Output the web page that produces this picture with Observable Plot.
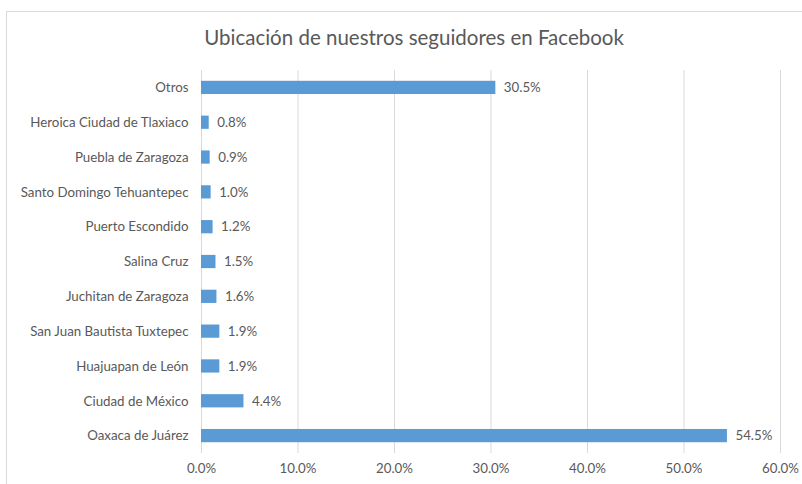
<!DOCTYPE html>
<html>
<head>
<meta charset="utf-8">
<script src="https://cdn.jsdelivr.net/npm/d3@7"></script>
<script src="https://cdn.jsdelivr.net/npm/@observablehq/plot@0.6"></script>
<style>
  html, body { margin: 0; padding: 0; background: #fff; }
  #wrap { position: relative; width: 802px; height: 484px; overflow: hidden; font-family: Lato, "Open Sans", sans-serif; }
  #border { position: absolute; left: 6px; top: 11px; width: 900px; height: 600px; border: 1px solid #D9D9D9; box-sizing: border-box; }
  #title { position: absolute; left: 0; top: 25px; width: 828px; text-align: center; font-size: 20.5px; color: #595959; }
  #chart { position: absolute; left: 0; top: 0; }
</style>
</head>
<body>
<div id="wrap">
  <div id="border"></div>
  <div id="title">Ubicación de nuestros seguidores en Facebook</div>
  <div id="chart"></div>
</div>
<script>
const categories = [
  "Otros",
  "Heroica Ciudad de Tlaxiaco",
  "Puebla de Zaragoza",
  "Santo Domingo Tehuantepec",
  "Puerto Escondido",
  "Salina Cruz",
  "Juchitan de Zaragoza",
  "San Juan Bautista Tuxtepec",
  "Huajuapan de León",
  "Ciudad de México",
  "Oaxaca de Juárez"
];
const values = [30.5, 0.8, 0.9, 1.0, 1.2, 1.5, 1.6, 1.9, 1.9, 4.4, 54.5];
const xTicks = [0, 10, 20, 30, 40, 50, 60];

const data = categories.map((c, i) => ({category: c, value: values[i]}));
const fmt = d => d.toFixed(1) + "%";

const chart = Plot.plot({
  width: 802,
  height: 484,
  marginTop: 70,
  marginBottom: 31,
  marginLeft: 201,
  marginRight: 22,
  style: {fontFamily: "Lato, 'Open Sans', sans-serif", fontSize: "13.3px", color: "#595959", background: "transparent", overflow: "visible"},
  x: {domain: [0, 60], ticks: xTicks, tickFormat: fmt, tickSize: 0, tickPadding: 10, label: null},
  y: {domain: categories, paddingInner: 0.62, paddingOuter: 0.31, round: false, tickSize: 0, tickPadding: 13, label: null},
  marks: [
    Plot.gridX(xTicks, {stroke: "#D9D9D9", strokeOpacity: 1, strokeWidth: 1}),
    Plot.barX(data, {x: "value", y: "category", fill: "#5B9BD5"}),
    Plot.text(data, {x: "value", y: "category", text: d => fmt(d.value), textAnchor: "start", dx: 8, fill: "#595959", fontSize: 13.3})
  ]
});
document.getElementById("chart").appendChild(chart);
</script>
</body>
</html>
